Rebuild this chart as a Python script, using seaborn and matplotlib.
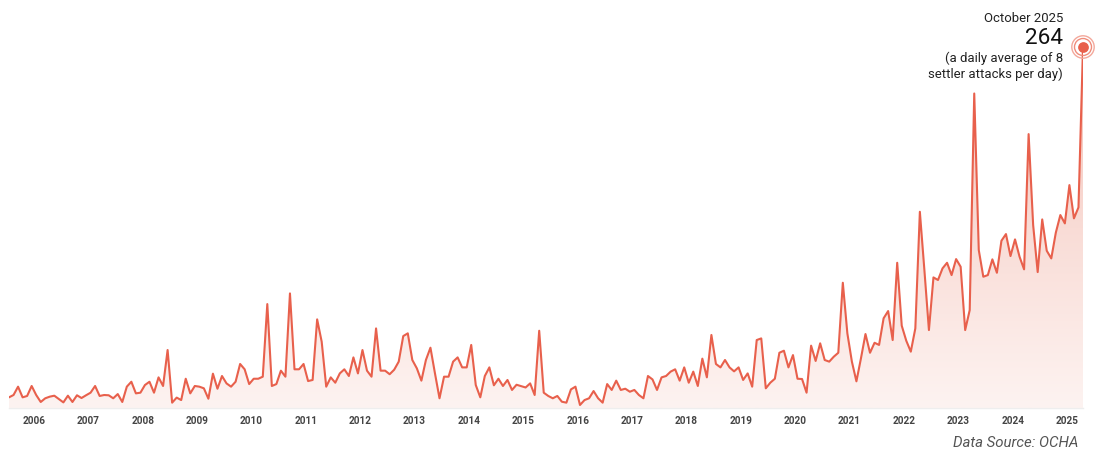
import numpy as np
import pandas as pd
import seaborn as sns
import matplotlib
matplotlib.use("Agg")
import matplotlib.pyplot as plt
from matplotlib.colors import LinearSegmentedColormap
from matplotlib import font_manager

# Monthly settler attacks (OCHA), Jan 2006 - Oct 2025
y2006 = [7.8, 9.5, 15.6, 7.8, 8.8, 16.1, 9.5, 4.4, 7.1, 8.3, 9.0, 6.6]
y2007 = [4.1, 9.0, 4.4, 9.3, 7.3, 9.3, 11.2, 16.1, 8.8, 9.5, 9.3, 7.1]
y2008 = [10.2, 4.4, 15.6, 19.2, 10.7, 11.2, 16.8, 19.2, 11.2, 22.4, 16.1, 42.4]
y2009 = [3.9, 7.6, 5.8, 21.4, 10.7, 16.1, 15.6, 14.4, 6.8, 25.1, 14.1, 23.4]
y2010 = [18.0, 15.6, 19.2, 32.2, 28.3, 17.5, 21.4, 21.4, 22.9, 76.0, 16.1, 17.5]
y2011 = [27.3, 22.9, 83.8, 28.3, 28.3, 32.2, 19.7, 20.5, 64.8, 48.5, 15.6, 22.4]
y2012 = [18.5, 25.3, 28.3, 23.4, 37.0, 25.3, 42.4, 27.3, 22.9, 58.2, 27.3, 27.3]
y2013 = [24.7, 28.0, 33.9, 52.6, 54.6, 35.1, 29.0, 20.0, 35.1, 44.1, 25.3, 7.1]
y2014 = [22.9, 22.9, 33.9, 37.0, 29.7, 29.7, 46.1, 16.8, 7.8, 23.4, 29.7, 16.6]
y2015 = [21.4, 16.1, 20.5, 13.2, 17.0, 16.0, 15.0, 18.0, 9.5, 56.5, 11.2, 8.8]
y2016 = [7.1, 8.8, 4.6, 3.9, 13.6, 15.6, 2.2, 5.8, 7.1, 12.4, 7.1, 3.9]
y2017 = [17.5, 13.2, 20.0, 13.2, 14.1, 11.9, 13.2, 9.5, 7.1, 23.4, 20.9, 13.2]
y2018 = [22.4, 23.4, 26.6, 28.3, 20.0, 29.7, 18.5, 26.6, 16.1, 36.1, 22.4, 53.4]
y2019 = [32.2, 29.7, 35.1, 29.7, 26.8, 29.7, 20.5, 25.3, 15.6, 49.7, 50.9, 14.4]
y2020 = [18.5, 21.4, 40.4, 41.9, 29.7, 38.7, 21.4, 21.2, 11.2, 45.6, 34.4, 47.3]
y2021 = [35.1, 33.9, 37.5, 40.4, 91.6, 54.6, 33.9, 19.5, 36.3, 54.1, 40.4, 47.7]
y2022 = [46.1, 65.6, 70.9, 49.7, 106.2, 60.2, 49.2, 41.2, 58.2, 143.5, 100.9, 57.0]
y2023 = [95.5, 93.6, 102.1, 106.2, 97.2, 108.9, 103.3, 57.0, 71.6, 230.0, 115.5, 96.0]
y2024 = [97.2, 108.7, 98.9, 122.3, 127.2, 111.1, 123.3, 110.6, 101.4, 200.3, 133.8, 99.4]
y2025 = [137.9, 115.0, 109.4, 128.2, 141.1, 135.0, 163.0, 138.7, 146.7, 264]

years = list(range(2006, 2026))
year_labels = [str(y) for y in years]

series = (y2006 + y2007 + y2008 + y2009 + y2010 + y2011 + y2012 + y2013 + y2014 + y2015
          + y2016 + y2017 + y2018 + y2019 + y2020 + y2021 + y2022 + y2023 + y2024 + y2025)
df = pd.DataFrame({"month": np.arange(len(series)), "attacks": series})

LINE = "#e8604c"

sns.set_theme(style="white")
plt.rcParams['font.family'] = ['Roboto', 'DejaVu Sans']

installed = {f.name for f in font_manager.fontManager.ttflist}
NARROW = 'Liberation Sans Narrow' if 'Liberation Sans Narrow' in installed else 'Roboto'
narrow_scale = 1.0 if NARROW == 'Liberation Sans Narrow' else 0.9

fig = plt.figure(figsize=(11.0, 4.53), dpi=100)
ax = fig.add_axes([9/1100, 45/453, (1083-9)/1100, (408-47)/453])

n = len(df)
ymax = 264
ax.set_xlim(0, n - 1)
ax.set_ylim(0, ymax)

# gradient fill under the line
poly = ax.fill_between(df["month"], df["attacks"], 0, color="none", lw=0)
cmap = LinearSegmentedColormap.from_list("g", ["#fdf3f1", "#f9dcd6", "#f4bfb5"])
grad = np.linspace(0, 1, 256).reshape(-1, 1)
im = ax.imshow(grad, aspect="auto", cmap=cmap, origin="lower",
               extent=[0, n - 1, 0, ymax], zorder=1)
path = poly.get_paths()[0]
im.set_clip_path(path, transform=ax.transData)

sns.lineplot(data=df, x="month", y="attacks", ax=ax, color=LINE, lw=1.5, zorder=3)

# endpoint marker with rings
last_x, last_y = df["month"].iloc[-1], df["attacks"].iloc[-1]
ax.scatter([last_x], [last_y], s=260, facecolor="none", edgecolor="#f3a89b", lw=1.0, zorder=4, clip_on=False)
ax.scatter([last_x], [last_y], s=150, facecolor="none", edgecolor="#f08d7c", lw=1.0, zorder=4, clip_on=False)
ax.scatter([last_x], [last_y], s=45, color=LINE, zorder=5, clip_on=False)

# axes styling
for s in ["top", "right", "left"]:
    ax.spines[s].set_visible(False)
ax.spines["bottom"].set_color("#eeeeee")
ax.spines["bottom"].set_linewidth(1.0)
ax.set_yticks([])
ax.set_xticks([5.5 + 12 * i for i in range(len(years))])
ax.set_xticklabels(year_labels, fontsize=7.2, color="#444444", fontweight="bold")
ax.tick_params(axis="x", length=0, pad=6)
ax.set_xlabel("")
ax.set_ylabel("")

# annotation
fam = [NARROW, 'DejaVu Sans']
fig.text(1063/1100, 1 - 18/453, "October 2025", ha="right", va="center",
         fontsize=10.5 * narrow_scale, color="#222222", family=fam)
fig.text(1063/1100, 1 - 39/453, "264", ha="right", va="center",
         fontsize=18 * narrow_scale, color="#111111", family=fam)
fig.text(1063/1100, 1 - 58.5/453, "(a daily average of 8", ha="right", va="center",
         fontsize=10.5 * narrow_scale, color="#222222", family=fam)
fig.text(1063/1100, 1 - 74.5/453, "settler attacks per day)", ha="right", va="center",
         fontsize=10.5 * narrow_scale, color="#222222", family=fam)

fig.text(1078/1100, 1 - 443/453, "Data Source: OCHA", ha="right", va="center",
         fontsize=12 * narrow_scale, color="#555555", style="italic", family=fam)

fig.savefig("out.png", dpi=100, facecolor="white")
